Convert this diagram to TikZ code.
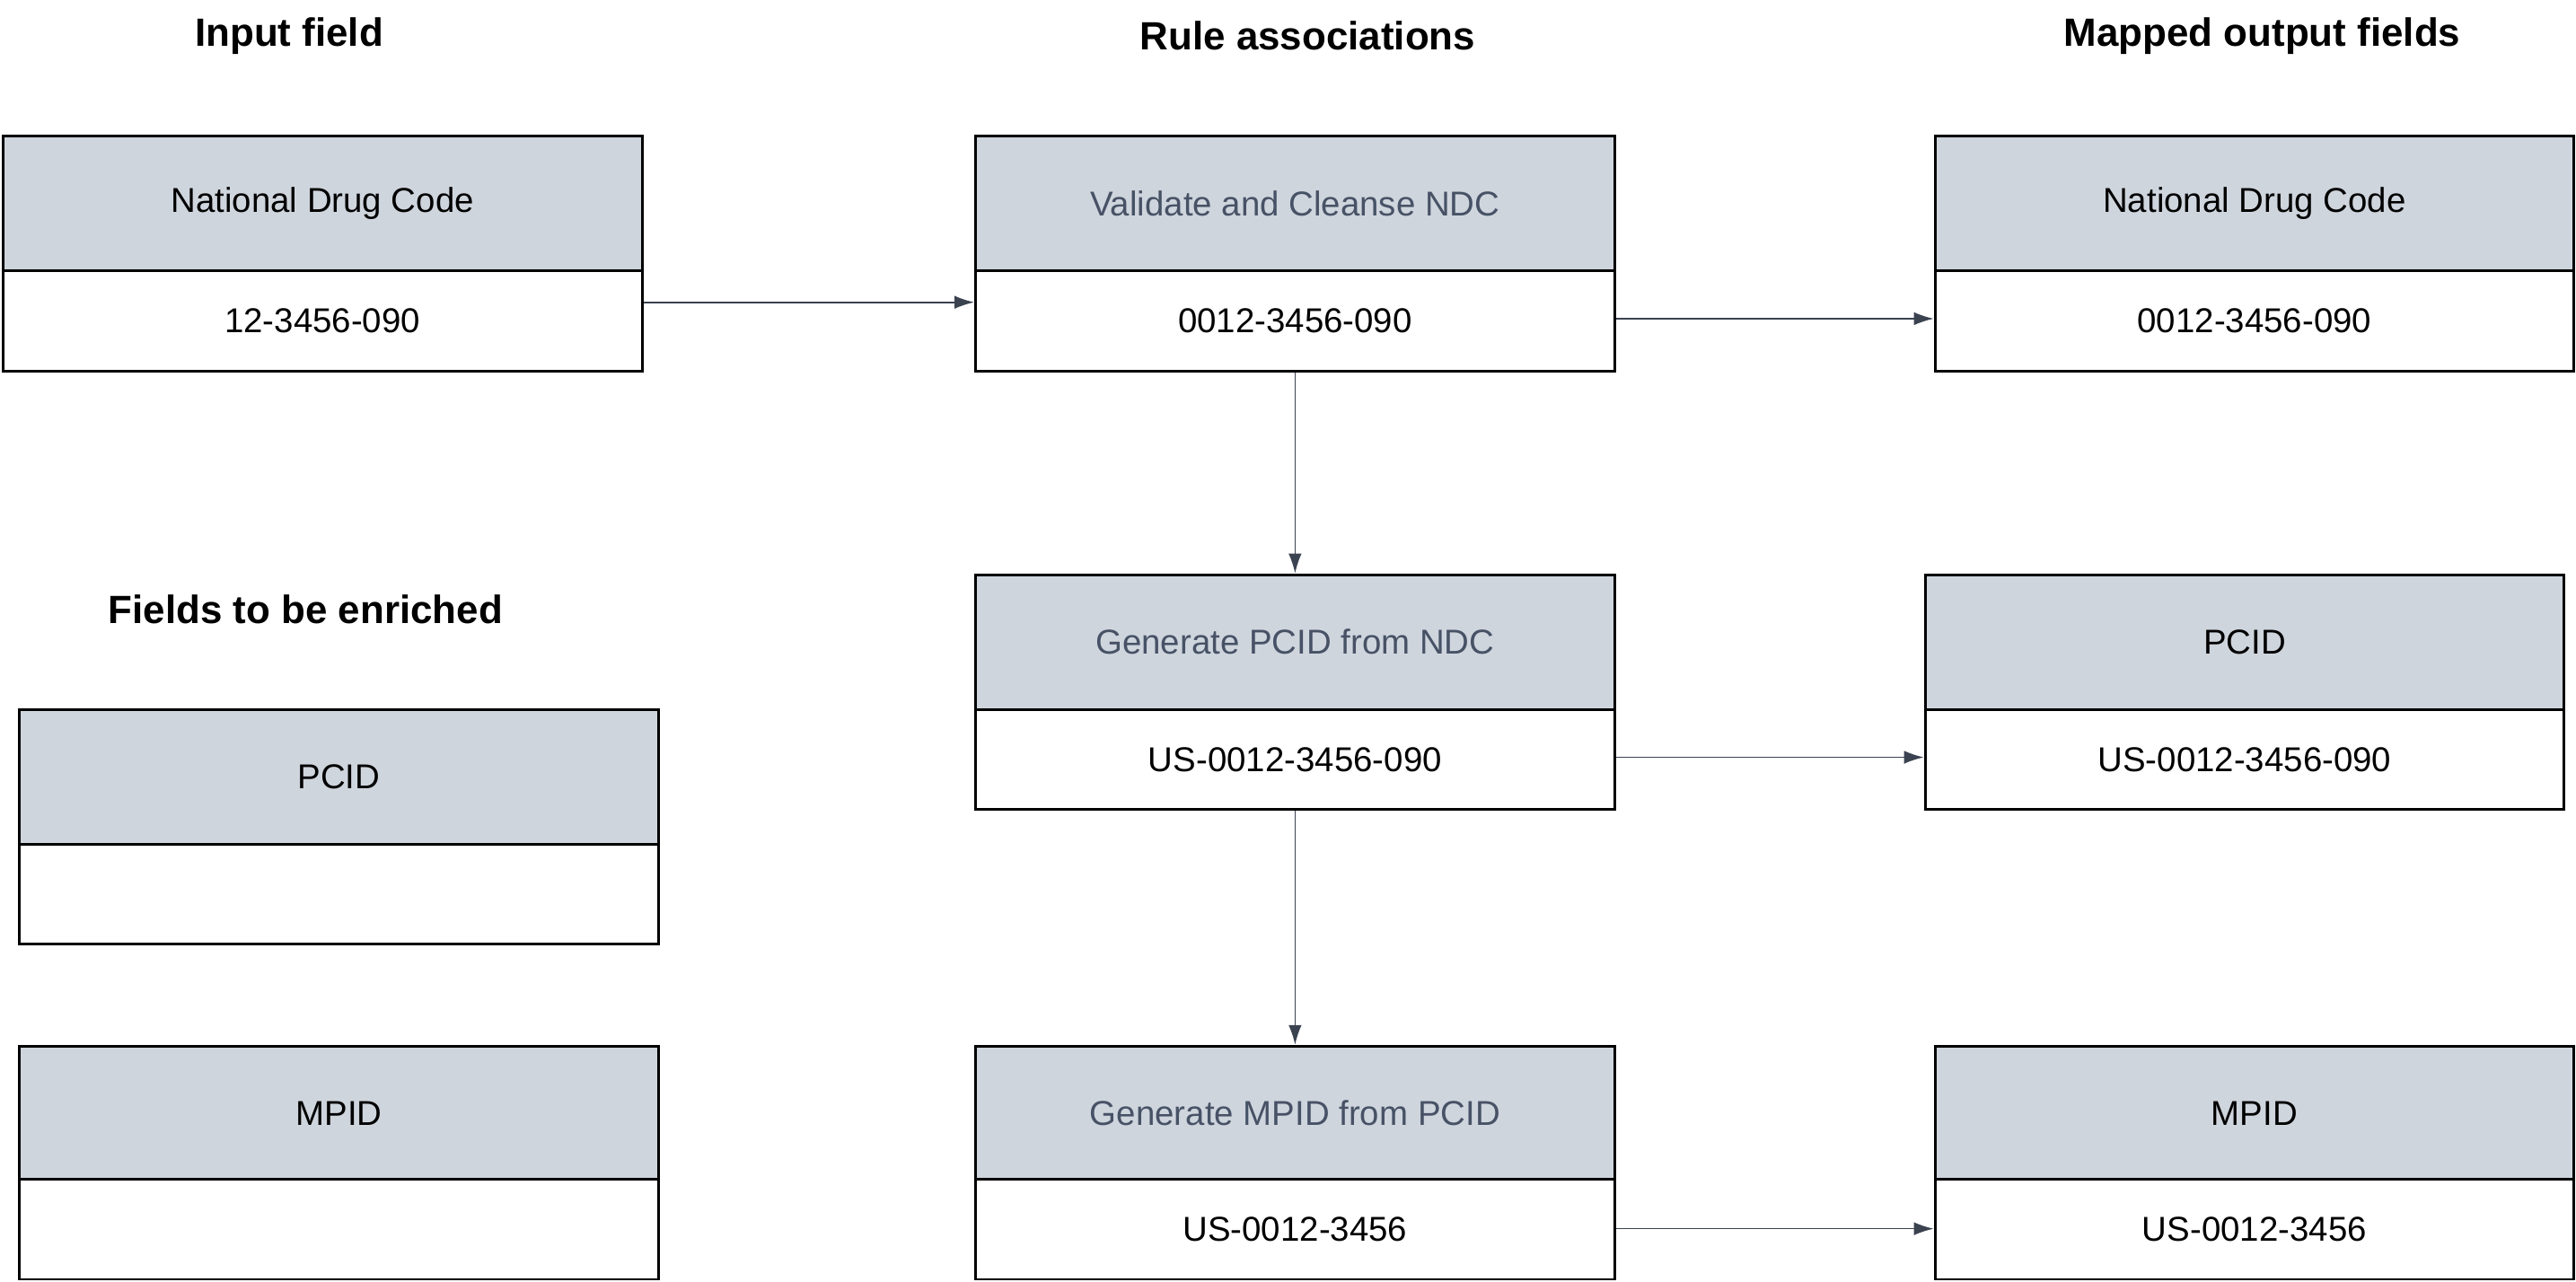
\documentclass[tikz,border=0pt]{standalone}
\usepackage{fontspec}
\setmainfont{Liberation Sans}
\usetikzlibrary{arrows.meta}
\definecolor{hdr}{HTML}{CFD5DD}
\definecolor{arr}{HTML}{3B4250}
\definecolor{rtxt}{HTML}{475266}
\begin{document}
\begin{tikzpicture}[x=1pt,y=-1pt,
  hd/.style={draw=black,line width=1.6pt,fill=hdr,anchor=north west,minimum width=389pt,minimum height=82pt,inner sep=0pt,font=\fontsize{21}{24}\selectfont},
  vl/.style={draw=black,line width=1.6pt,fill=white,anchor=north west,minimum width=389pt,minimum height=61pt,inner sep=0pt,font=\fontsize{21}{24}\selectfont},
  ttl/.style={font=\fontsize{24}{28}\selectfont\bfseries},
  ar/.style={draw=arr,line width=0.9pt,-{Latex[length=12pt,width=8pt]}}]
\useasboundingbox (0,0) rectangle (1568,780);
\node[ttl] (t1) at (176,22) {Input field};
\node[ttl] (t2) at (796,22) {Rule associations};
\node[ttl] (t3) at (1377,22) {Mapped output fields};
\node[ttl] (t4) at (186,371) {Fields to be enriched};
% input
\node[hd] (ih) at (1,82) {National Drug Code};
\node[vl] (iv) at (1,164) {12-3456-090};
% rules
\node[hd,text=rtxt] (r1h) at (593,82) {Validate and Cleanse NDC};
\node[vl] (r1v) at (593,164) {0012-3456-090};
\node[hd,text=rtxt] (r2h) at (593,349) {Generate PCID from NDC};
\node[vl] (r2v) at (593,431) {US-0012-3456-090};
\node[hd,text=rtxt] (r3h) at (593,636) {Generate MPID from PCID};
\node[vl] (r3v) at (593,717) {US-0012-3456};
% outputs
\node[hd] (o1h) at (1177,82) {National Drug Code};
\node[vl] (o1v) at (1177,164) {0012-3456-090};
\node[hd] (o2h) at (1171,349) {PCID};
\node[vl] (o2v) at (1171,431) {US-0012-3456-090};
\node[hd] (o3h) at (1177,636) {MPID};
\node[vl] (o3v) at (1177,717) {US-0012-3456};
% enrich
\node[hd] (e1h) at (11,431) {PCID};
\node[vl] (e1v) at (11,513) {};
\node[hd] (e2h) at (11,636) {MPID};
\node[vl] (e2v) at (11,717) {};
% arrows
\draw[ar] (iv.east |- 0,184) -- (r1v.west |- 0,184);
\draw[ar] (r1v.east |- 0,194) -- (o1v.west |- 0,194);
\draw[ar] (r1v.south) -- (r2h.north);
\draw[ar] (r2v.east |- 0,461) -- (o2v.west |- 0,461);
\draw[ar] (r2v.south) -- (r3h.north);
\draw[ar] (r3v.east |- 0,748) -- (o3v.west |- 0,748);
\end{tikzpicture}
\end{document}
